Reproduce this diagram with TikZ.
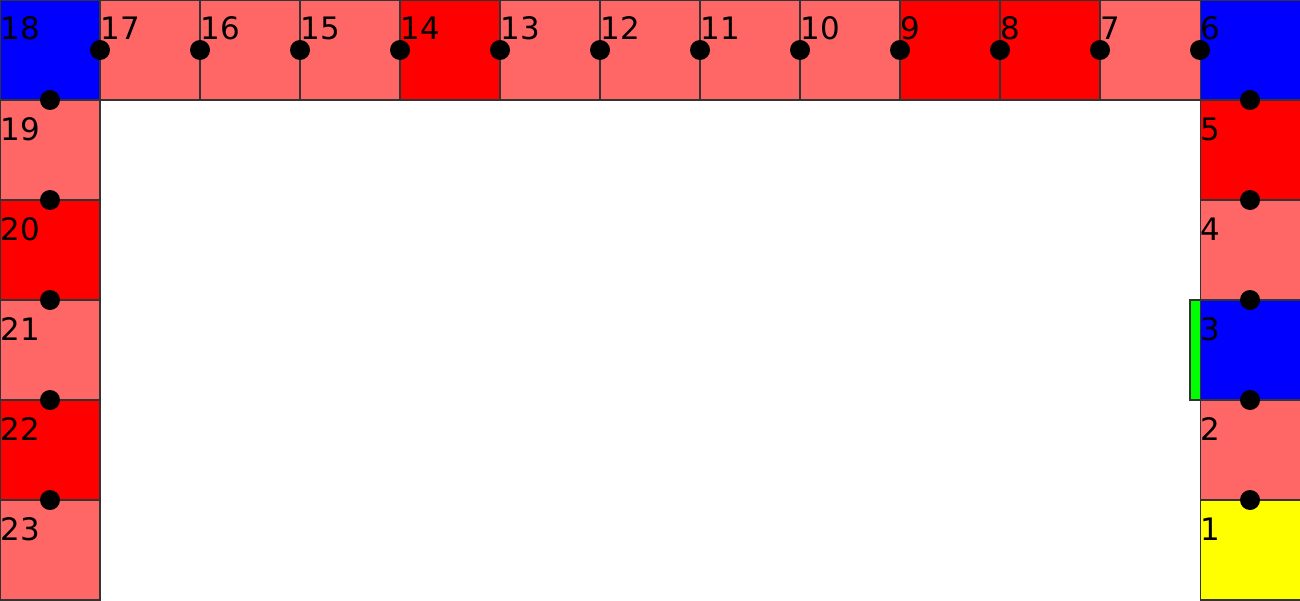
\documentclass[tikz,border=0pt]{standalone}
\usepackage{fontspec}
\setmainfont{DejaVu Sans}
\usetikzlibrary{calc}

\begin{document}
\begin{tikzpicture}
    % Define colours
    \definecolor{borderColour}{HTML}{333333}
    \definecolor{paleRed}{HTML}{FF6666}
    \definecolor{fullRed}{HTML}{FF0000}
    \definecolor{fullBlue}{HTML}{0000FF}
    \definecolor{fullYellow}{HTML}{FFFF00}
    \definecolor{fullGreen}{HTML}{00FF00}

    % Define styles
    \tikzset{
        cell/.style={draw=borderColour, line width=0.3pt, minimum size=1cm, inner sep=0pt, outer sep=0pt},
        stone/.style={circle, fill=black, minimum size=0.2cm, inner sep=0pt},
        number/.style={anchor=base west, inner sep=0pt, font=\fontsize{8.8}{10}\selectfont},
    }

    % Fix the picture size
    \useasboundingbox (0,0) rectangle (13,6);

    % Draw the cells of the track
    \foreach \n/\x/\y/\col in {1/12/0/fullYellow, 2/12/1/paleRed, 3/12/2/fullBlue,
        4/12/3/paleRed, 5/12/4/fullRed, 6/12/5/fullBlue, 7/11/5/paleRed,
        8/10/5/fullRed, 9/9/5/fullRed, 10/8/5/paleRed, 11/7/5/paleRed,
        12/6/5/paleRed, 13/5/5/paleRed, 14/4/5/fullRed, 15/3/5/paleRed,
        16/2/5/paleRed, 17/1/5/paleRed, 18/0/5/fullBlue, 19/0/4/paleRed,
        20/0/3/fullRed, 21/0/2/paleRed, 22/0/1/fullRed, 23/0/0/paleRed}
        \node[cell, fill=\col] (c\n) at (\x+0.5,\y+0.5) {};

    % Draw the green marker beside cell 3
    \node[draw=borderColour, line width=0.3pt, fill=fullGreen, minimum width=0.1cm,
        minimum height=1cm, inner sep=0pt, outer sep=0pt, anchor=east] (marker) at (c3.west) {};

    % Label the cells
    \foreach \n in {1,...,23}
        \node[number] (t\n) at ($(c\n.north west)+(0,-0.4)$) {\n};

    % Draw the stones between neighbouring cells
    \foreach \n [evaluate=\n as \m using int(\n+1)] in {1,...,22}
        \node[stone] (d\n) at ($(c\n)!0.5!(c\m)$) {};

\end{tikzpicture}
\end{document}
